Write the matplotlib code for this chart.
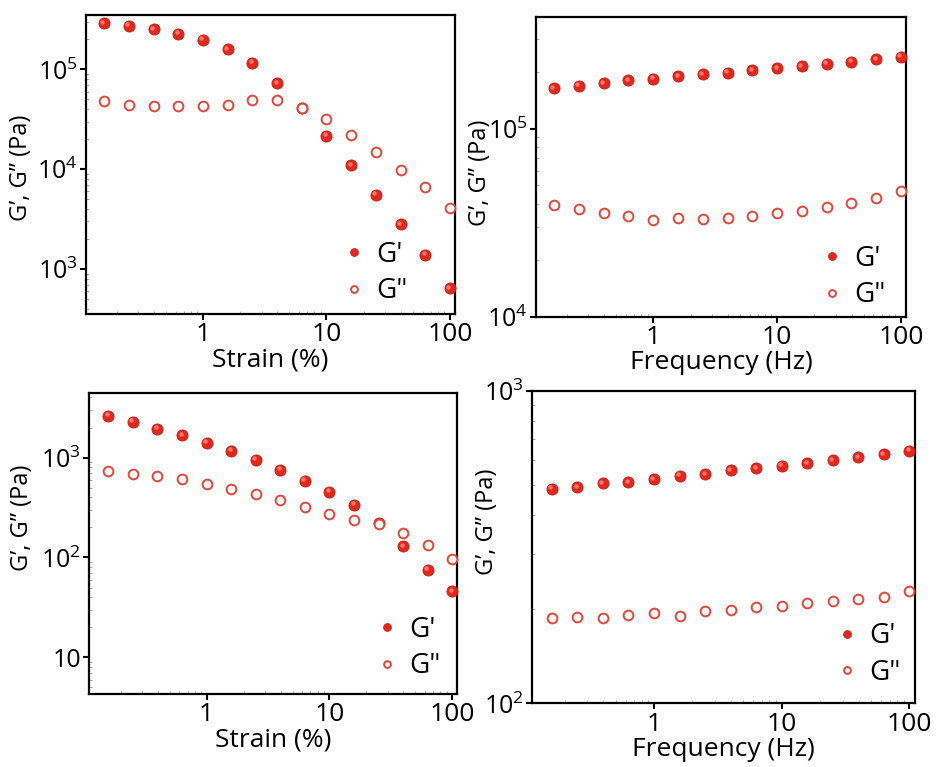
"""
Rheology panels: strain and frequency sweeps (G', G'') for two gels.
Saves out.png.
"""

import matplotlib
matplotlib.use("Agg")
import matplotlib.pyplot as plt
import matplotlib.transforms as mtransforms
from matplotlib.ticker import FixedLocator, LogLocator, NullFormatter

plt.rcParams.update({
    "font.family": ["Open Sans", "DejaVu Sans"],
    "font.size": 19,
    "mathtext.fontset": "custom",
    "mathtext.rm": "Open Sans",
    "mathtext.it": "Open Sans:italic",
    "mathtext.bf": "Open Sans:bold",
})

RED = "#e2271d"
RED_EDGE = "#c81c14"
RED_OPEN = "#e0473a"
HIGHLIGHT = "#f08a80"

# x values (strain % / frequency Hz), 5 points per decade
STRAIN = [0.158, 0.251, 0.398, 0.631, 1.0, 1.585, 2.512, 3.981, 6.31, 10.0,
          15.85, 25.12, 39.81, 63.1, 100.0]
FREQ = [0.158, 0.251, 0.398, 0.631, 1.0, 1.585, 2.512, 3.981, 6.31, 10.0,
        15.85, 25.12, 39.81, 63.1, 100.0]

# panel a: strain sweep, gel 1
A_GP = [2.89e5, 2.72e5, 2.52e5, 2.28e5, 1.97e5, 1.59e5, 1.16e5, 7.24e4,
        4.1e4, 2.16e4, 1.10e4, 5.57e3, 2.80e3, 1.39e3, 645]
A_GPP = [4.81e4, 4.43e4, 4.29e4, 4.26e4, 4.29e4, 4.38e4, 4.89e4, 4.97e4,
         4.13e4, 3.15e4, 2.21e4, 1.49e4, 9.9e3, 6.6e3, 4.1e3]

# panel b: frequency sweep, gel 1
B_GP = [1.64e5, 1.69e5, 1.75e5, 1.81e5, 1.85e5, 1.90e5, 1.95e5, 1.99e5,
        2.05e5, 2.10e5, 2.15e5, 2.21e5, 2.27e5, 2.34e5, 2.42e5]
B_GPP = [3.92e4, 3.76e4, 3.56e4, 3.45e4, 3.29e4, 3.36e4, 3.33e4, 3.36e4,
         3.43e4, 3.55e4, 3.65e4, 3.84e4, 4.03e4, 4.27e4, 4.65e4]

# panel c: strain sweep, gel 2
C_GP = [2610, 2275, 1950, 1675, 1402, 1166, 948, 752, 589, 453, 338, 220,
        129, 75.5, 45.8]
C_GPP = [735, 681, 655, 607, 545, 486, 433, 377, 318, 270, 239, 217, 176,
         134.5, 97]

# panel d: frequency sweep, gel 2
D_GP = [486, 492, 506, 510, 520, 535, 541, 556, 565, 576, 587, 600, 613,
        627, 643]
D_GPP = [187, 188.5, 188, 192, 194.6, 190.7, 197, 199, 203, 205, 209.4,
         212.4, 215, 219.5, 229]

YLABEL = "G’, G” (Pa)"


def sci(v):
    if v == 10:
        return "10"
    e = len(str(int(v))) - 1
    return r"$\mathregular{10^{%d}}$" % e


def draw_panel(fig, rect, x, gp, gpp, xlabel, xlim, ylim, yticks,
               ylabel_pos, legend_anchor):
    ax = fig.add_axes(rect)
    ax.set_xscale("log")
    ax.set_yscale("log")

    # G'' open circles on top of G' (white face hides overlaps)
    ax.plot(x, gp, "o", ms=8, color=RED, mec=RED_EDGE, mew=0.6,
            zorder=3, clip_on=False, label="G'")
    hl = mtransforms.offset_copy(ax.transData, fig=fig, x=-1.5, y=1.5,
                                 units="dots")
    ax.plot(x, gp, "o", ms=3.2, color=HIGHLIGHT, mew=0, alpha=0.85,
            transform=hl, zorder=3.5, clip_on=False)
    ax.plot(x, gpp, "o", ms=7, mfc="white", mec=RED_OPEN, mew=1.4,
            zorder=4, clip_on=False, label='G"')

    ax.set_xlim(*xlim)
    ax.set_ylim(*ylim)
    ax.xaxis.set_major_locator(FixedLocator([1, 10, 100]))
    ax.set_xticklabels(["1", "10", "100"])
    ax.xaxis.set_minor_locator(LogLocator(base=10, subs=range(2, 10)))
    ax.xaxis.set_minor_formatter(NullFormatter())
    ax.yaxis.set_major_locator(FixedLocator(yticks))
    ax.set_yticklabels([sci(v) for v in yticks])
    ax.yaxis.set_minor_locator(LogLocator(base=10, subs=range(2, 10)))
    ax.yaxis.set_minor_formatter(NullFormatter())

    ax.tick_params(axis="x", which="major", labelsize=19)
    ax.tick_params(axis="y", which="major", labelsize=18)
    ax.tick_params(which="major", direction="out", length=4, width=1.5,
                   pad=2)
    ax.tick_params(which="minor", direction="in", length=2.5, width=0.6,
                   color="#999999")
    for s in ax.spines.values():
        s.set_linewidth(1.6)

    ax.set_xlabel(xlabel, fontsize=19, labelpad=0)
    ax.set_ylabel(YLABEL, fontsize=17)
    ax.yaxis.set_label_coords(*ylabel_pos)

    h, l = ax.get_legend_handles_labels()
    ax.legend(h, l, loc="lower right", bbox_to_anchor=legend_anchor,
              frameon=False, markerscale=0.7, handlelength=0.6,
              handletextpad=0.5, labelspacing=0.3, fontsize=20,
              borderaxespad=0.2)
    return ax


def main():
    fig = plt.figure(figsize=(9.37, 7.67), dpi=100)

    draw_panel(fig, [0.0918, 0.5906, 0.3938, 0.3898], STRAIN, A_GP, A_GPP,
               "Strain (%)", (0.113, 110), (355, 3.5e5), [1e3, 1e4, 1e5],
               (-0.145, 0.488), (0.917, -0.027))
    draw_panel(fig, [0.572, 0.5867, 0.395, 0.3915], FREQ, B_GP, B_GPP,
               "Frequency (Hz)", (0.113, 110), (1e4, 3.94e5), [1e4, 1e5],
               (-0.12, 0.48), (0.99, -0.03))
    draw_panel(fig, [0.0953, 0.0952, 0.3924, 0.392], STRAIN, C_GP, C_GPP,
               "Strain (%)", (0.111, 109), (4.3, 4400), [10, 1e2, 1e3],
               (-0.15, 0.585), (1.0, -0.01))
    draw_panel(fig, [0.5678, 0.0830, 0.409, 0.4076], FREQ, D_GP, D_GPP,
               "Frequency (Hz)", (0.111, 111), (100, 1000), [1e2, 1e3],
               (-0.085, 0.58), (1.005, 0.0))

    fig.savefig("out.png", dpi=100, facecolor="white")


if __name__ == "__main__":
    main()
